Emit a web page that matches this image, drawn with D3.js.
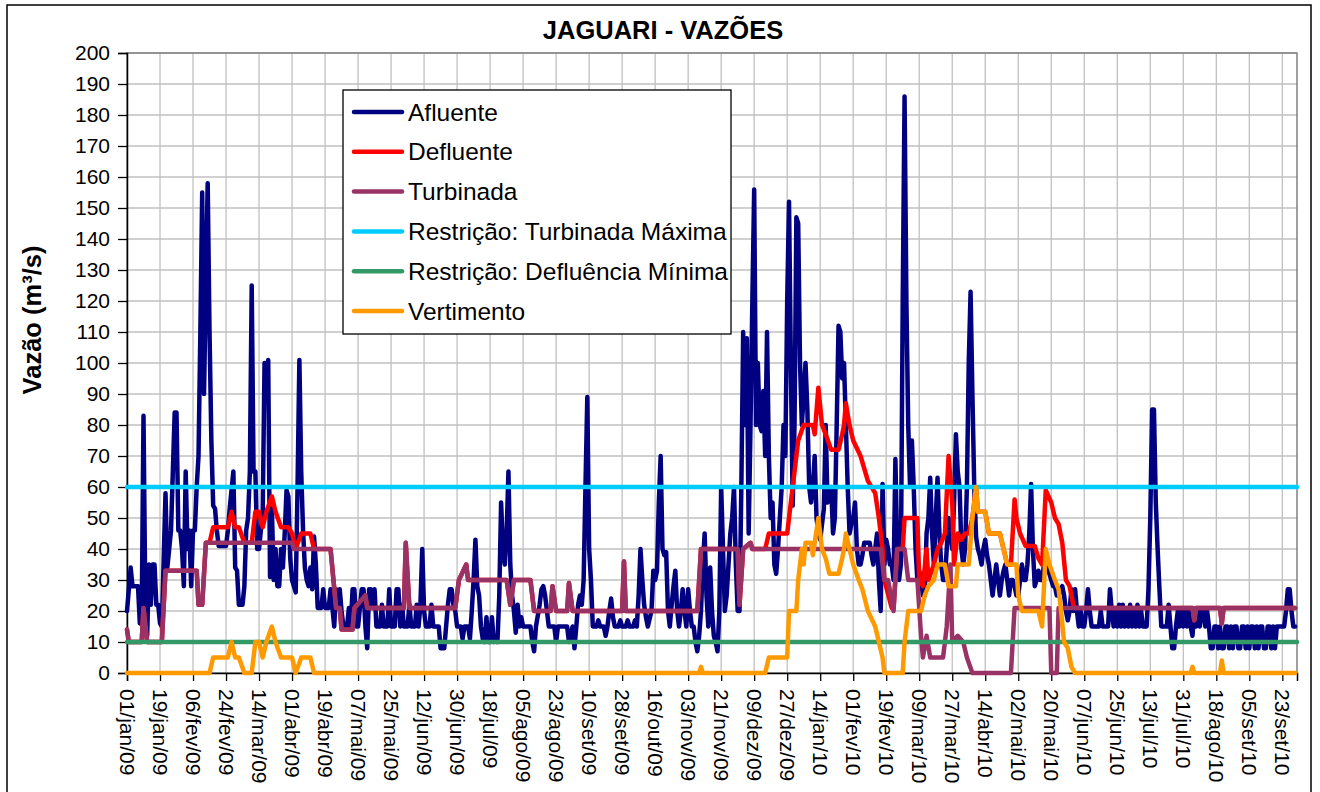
<!DOCTYPE html>
<html>
<head>
<meta charset="utf-8">
<script src="https://cdn.jsdelivr.net/npm/d3@7"></script>
<style>
  body { margin: 0; background: #fff; }
  text { font-family: "Liberation Sans", Arial, sans-serif; fill: #000; }
</style>
</head>
<body>
<svg id="chart" width="1320" height="792"></svg>
<script>
'use strict'

// [dia desde 01/jan/09, vazão m³/s]
const afluente = [
  [0,20],[2,34],[3,28],[6,28],[7,16],[8,16],[9,83],[10,22],[11,12],[12,35],[13,22],[14,35],[15,35],[16,22],[17,22],[18,16],[19,15],
  [21,58],[22,34],[23,40],[24,46],[26,84],[27,84],[28,46],[29,46],[30,40],[31,28],[32,65],[33,40],[34,46],[35,28],[36,46],[37,46],
  [38,60],[39,70],[40,110],[41,155],[42,90],[43,125],[44,158],[45,110],[46,75],[47,54],[48,53],[49,46],[50,41],[54,41],[55,46],
  [56,53],[57,59],[58,65],[59,34],[60,33],[61,22],[63,22],[64,28],[65,46],[66,50],[67,65],[68,125],[69,65],[70,65],[71,40],[72,40],
  [73,46],[74,52],[75,100],[76,96],[77,101],[78,31],[79,53],[80,30],[81,40],[82,28],[83,28],[84,40],[85,34],[86,45],[87,59],[88,57],
  [89,37],[90,30],[91,28],[92,26],[93,60],[94,101],[95,65],[96,46],[97,34],[98,30],[99,28],[100,34],[101,27],[102,44],[103,35],
  [104,21],[106,21],[107,27],[108,21],[110,21],[111,27],[112,21],[113,15],[114,27],[115,21],[116,27],[117,20],[118,15],[120,15],
  [121,21],[122,15],[123,27],[124,27],[125,15],[126,15],[127,21],[128,27],[129,27],[130,15],[131,8],[132,27],[133,27],[134,21],
  [135,27],[136,15],[138,15],[139,22],[140,15],[142,15],[143,27],[144,15],[146,15],[147,27],[148,27],[149,15],[150,22],[151,15],
  [153,15],[154,22],[155,15],[157,15],[158,22],[159,15],[160,22],[161,40],[162,20],[163,15],[165,15],[166,22],[167,15],[170,15],
  [171,8],[173,8],[174,15],[175,22],[176,27],[177,27],[178,22],[179,20],[180,15],[182,15],[183,11],[184,15],[186,15],[187,11],
  [188,20],[189,30],[190,43],[191,28],[192,25],[193,15],[194,11],[195,10],[196,18],[197,10],[198,10],[199,18],[200,10],[201,11],
  [202,10],[203,25],[204,55],[205,40],[206,35],[207,45],[208,65],[209,35],[210,25],[211,20],[212,13],[213,22],[214,15],[215,18],
  [216,15],[218,15],[219,15],[220,15],[221,10],[222,7],[223,15],[225,22],[226,27],[227,28],[228,25],[229,20],[230,15],[233,15],
  [234,10],[235,15],[240,15],[241,10],[243,15],[244,8],[245,15],[246,22],[247,25],[248,22],[249,30],[250,60],[251,89],[252,40],
  [253,30],[254,15],[256,15],[257,17],[258,15],[260,15],[261,12],[262,15],[263,20],[264,24],[265,18],[266,15],[268,15],[269,17],
  [270,15],[272,15],[273,17],[274,15],[276,15],[277,17],[278,15],[279,25],[280,40],[281,30],[282,22],[283,18],[284,15],[286,20],
  [287,33],[288,30],[289,33],[290,55],[291,70],[292,40],[293,38],[294,39],[295,20],[296,15],[297,22],[298,28],[299,33],[300,20],
  [301,15],[302,20],[303,27],[304,20],[305,15],[306,27],[307,20],[308,15],[309,15],[310,10],[311,7],[312,12],[313,20],[314,35],
  [315,45],[316,25],[317,15],[318,34],[319,20],[320,12],[321,10],[322,7],[323,20],[324,60],[325,40],[326,20],[327,25],[328,35],
  [329,45],[330,50],[331,60],[332,35],[333,20],[334,20],[335,60],[336,110],[337,80],[338,108],[339,45],[340,80],[341,120],[342,156],
  [343,80],[344,100],[345,80],[346,78],[347,91],[348,70],[349,110],[350,70],[351,50],[352,55],[353,35],[354,32],[355,40],[356,50],
  [357,60],[358,80],[359,70],[360,120],[361,152],[362,100],[363,54],[364,80],[365,147],[366,145],[367,100],[368,80],[369,90],
  [370,100],[371,85],[372,60],[373,55],[374,60],[375,70],[376,50],[377,45],[378,43],[379,48],[380,53],[381,80],[382,55],[383,58],
  [384,60],[385,45],[386,50],[387,80],[388,112],[389,110],[390,95],[391,100],[392,80],[393,60],[394,45],[395,48],[396,50],[397,55],
  [398,40],[399,35],[400,35],[401,38],[402,42],[405,42],[406,38],[407,35],[408,40],[409,45],[410,30],[411,20],[412,61],[413,35],
  [414,43],[415,40],[416,35],[417,35],[418,30],[419,69],[420,40],[421,30],[422,35],[423,120],[424,186],[425,120],[426,80],[427,60],
  [428,75],[429,60],[430,40],[431,30],[432,33],[433,30],[434,25],[435,25],[436,45],[437,50],[438,63],[439,45],[440,35],[441,50],
  [442,63],[443,45],[444,35],[445,30],[446,30],[447,40],[448,50],[449,45],[450,40],[451,55],[452,77],[453,65],[454,60],[455,40],
  [456,35],[457,40],[458,60],[459,100],[460,123],[461,90],[462,60],[463,44],[464,40],[465,38],[466,35],[467,40],[468,43],[469,38],
  [470,35],[471,30],[472,25],[473,30],[474,35],[475,30],[476,25],[477,30],[478,33],[479,35],[480,30],[481,25],[482,30],[483,30],
  [484,28],[485,25],[486,25],[487,30],[488,35],[489,30],[490,30],[491,35],[492,45],[493,61],[494,40],[495,28],[496,30],[497,33],
  [498,30],[499,30],[500,35],[501,38],[502,35],[503,32],[504,30],[505,28],[506,28],[507,25],[508,25],[509,27],[510,28],[511,25],
  [512,20],[513,17],[514,20],[515,27],[516,20],[517,27],[518,20],[519,15],[520,20],[521,15],[522,15],[523,20],[524,27],[525,20],
  [526,15],[530,15],[531,20],[532,15],[535,15],[536,27],[537,20],[538,15],[539,20],[540,15],[541,22],[542,15],[543,22],[544,15],
  [545,20],[546,15],[547,22],[548,15],[549,20],[550,15],[551,22],[552,15],[553,20],[554,15],[556,15],[557,27],[558,50],[559,85],
  [560,85],[561,55],[562,40],[563,27],[564,15],[567,15],[568,22],[569,15],[570,8],[571,8],[572,15],[573,20],[574,15],[575,20],
  [576,15],[577,20],[578,15],[579,20],[580,15],[581,12],[582,20],[583,15],[584,20],[585,15],[586,20],[587,20],[588,15],[589,20],
  [590,15],[591,8],[592,8],[593,15],[594,15],[595,8],[596,15],[597,8],[598,8],[599,15],[600,15],[601,8],[602,15],[603,8],[604,15],
  [605,15],[606,8],[607,8],[608,15],[609,15],[610,8],[611,15],[612,8],[613,15],[614,15],[615,8],[616,15],[617,8],[618,15],[619,15],
  [620,8],[621,8],[622,15],[623,15],[624,8],[625,15],[626,8],[627,15],[631,15],[632,20],[633,27],[634,27],[635,20],[636,15],[637,15]
]

const defluente = [
  [0,14],[1,10],[8,10],[9,21],[11,10],[19,10],[21,33],[38,33],[39,22],[41,22],[43,42],[45,42],[47,47],[55,47],[57,52],[59,47],
  [61,47],[64,42],[68,42],[70,52],[72,52],[74,47],[76,52],[79,57],[81,52],[84,47],[88,47],[90,45],[92,40],[95,45],[100,45],[102,40],
  [111,40],[114,21],[116,21],[117,14],[123,14],[124,21],[130,25],[131,21],[151,21],[152,42],[154,21],[179,21],[181,30],[185,35],
  [186,30],[207,30],[209,22],[211,30],[220,30],[222,20],[231,20],[232,28],[234,20],[240,20],[241,29],[243,20],[270,20],[271,36],
  [272,20],[311,20],[313,40],[333,40],[334,22],[336,40],[340,42],[341,40],[348,40],[350,45],[360,45],[363,60],[366,75],[369,80],
  [374,80],[375,77],[377,92],[379,80],[381,77],[384,72],[388,72],[390,77],[391,80],[392,87],[394,80],[396,75],[400,70],[404,62],
  [408,58],[410,50],[412,40],[413,30],[417,21],[418,21],[420,40],[423,40],[424,50],[431,50],[432,30],[434,28],[436,40],[437,30],
  [440,35],[442,40],[444,42],[446,45],[448,70],[450,55],[451,35],[453,45],[455,43],[457,45],[459,45],[461,50],[463,60],[464,52],
  [468,52],[470,45],[476,45],[478,40],[480,35],[482,35],[484,56],[485,50],[487,45],[490,41],[495,41],[497,37],[499,35],[501,59],
  [504,55],[506,50],[508,48],[510,42],[512,30],[514,28],[516,22],[517,21],[581,21],[582,17],[583,21],[596,21],[597,16],[598,21],
  [637,21]
]

const turbinada = [
  [0,14],[1,10],[8,10],[9,21],[11,10],[19,10],[21,33],[38,33],[39,22],[41,22],[43,42],[90,42],[91,40],[111,40],[114,21],[116,21],
  [117,14],[123,14],[124,21],[130,25],[131,21],[151,21],[152,42],[154,21],[179,21],[181,30],[185,35],[186,30],[207,30],[209,22],
  [211,30],[220,30],[222,20],[231,20],[232,28],[234,20],[240,20],[241,29],[243,20],[270,20],[271,36],[272,20],[311,20],[313,40],
  [333,40],[334,22],[336,40],[340,42],[341,40],[411,40],[413,30],[415,30],[418,20],[420,40],[424,40],[426,30],[431,30],[433,12],
  [434,5],[436,12],[438,5],[445,5],[447,15],[449,35],[450,10],[453,12],[456,10],[458,5],[461,0],[482,0],[484,21],[503,21],[504,0],
  [507,0],[508,21],[581,21],[582,17],[583,21],[596,21],[597,16],[598,21],[637,21]
]

const restricaoTurbMax = [[0,60],[638,60]]
const restricaoDeflMin = [[0,10],[638,10]]

const vertimento = [
  [0,0],[45,0],[47,5],[55,5],[57,10],[59,5],[61,5],[64,0],[68,0],[70,10],[72,10],[74,5],[76,10],[79,15],[81,10],[84,5],[90,5],
  [92,0],[95,5],[100,5],[102,0],[312,0],[313,2],[314,0],[348,0],[350,5],[360,5],[361,20],[365,20],[366,30],[368,40],[369,35],
  [370,42],[373,42],[374,38],[377,50],[379,40],[381,37],[383,32],[388,32],[390,37],[391,40],[392,45],[394,40],[396,35],[399,30],
  [401,27],[404,20],[408,15],[410,10],[412,5],[413,0],[423,0],[424,10],[426,20],[433,20],[435,25],[437,28],[440,30],[442,35],
  [446,35],[448,28],[452,28],[453,35],[459,35],[461,50],[463,60],[464,52],[468,52],[470,45],[476,45],[478,40],[480,35],[485,35],
  [486,25],[488,20],[497,20],[499,15],[501,40],[503,35],[506,30],[508,27],[509,22],[511,10],[513,8],[515,2],[517,0],[580,0],
  [581,2],[582,0],[596,0],[597,4],[598,0],[637,0]
]

const seriesNames = ['Afluente', 'Defluente', 'Turbinada', 'Restrição: Turbinada Máxima', 'Restrição: Defluência Mínima', 'Vertimento']
const seriesColors = ['#000080', '#ff0000', '#993366', '#00ccff', '#339966', '#ff9900']

const xTickLabels = [
  '01/jan/09', '19/jan/09', '06/fev/09', '24/fev/09', '14/mar/09', '01/abr/09', '19/abr/09', '07/mai/09', '25/mai/09',
  '12/jun/09', '30/jun/09', '18/jul/09', '05/ago/09', '23/ago/09', '10/set/09', '28/set/09', '16/out/09', '03/nov/09',
  '21/nov/09', '09/dez/09', '27/dez/09', '14/jan/10', '01/fev/10', '19/fev/10', '09/mar/10', '27/mar/10', '14/abr/10',
  '02/mai/10', '20/mai/10', '07/jun/10', '25/jun/10', '13/jul/10', '31/jul/10', '18/ago/10', '05/set/10', '23/set/10'
]
const yTicks = [0, 10, 20, 30, 40, 50, 60, 70, 80, 90, 100, 110, 120, 130, 140, 150, 160, 170, 180, 190, 200]

const monthIndex = { jan: 0, fev: 1, mar: 2, abr: 3, mai: 4, jun: 5, jul: 6, ago: 7, set: 8, out: 9, nov: 10, dez: 11 }
const parseLabel = (s) => {
  const [d, m, yy] = s.split('/')
  return new Date(Date.UTC(2000 + +yy, monthIndex[m], +d))
}
const start = new Date(Date.UTC(2009, 0, 1))
const dayToDate = (n) => d3.utcDay.offset(start, n)

const plot = { left: 127, right: 1297, top: 53, bottom: 673 }

const svg = d3.select('#chart')

// moldura externa do gráfico
svg.append('rect')
  .attr('x', 7).attr('y', 5).attr('width', 1304).attr('height', 800)
  .attr('fill', '#fff').attr('stroke', '#000').attr('stroke-width', 1.5)

const x = d3.scaleUtc()
  .domain([start, dayToDate(638)])
  .range([plot.left, plot.right])

const y = d3.scaleLinear()
  .domain([0, 200])
  .range([plot.bottom, plot.top])

const xTicks = xTickLabels.map(parseLabel)

// grade
const grid = svg.append('g').attr('stroke', '#c0c0c0').attr('stroke-width', 1.3)
grid.selectAll('.hgrid')
  .data(yTicks.filter(v => v > 0))
  .enter().append('line')
  .attr('x1', plot.left).attr('x2', plot.right)
  .attr('y1', d => y(d)).attr('y2', d => y(d))
grid.selectAll('.vgrid')
  .data(xTicks.slice(1))
  .enter().append('line')
  .attr('x1', d => x(d)).attr('x2', d => x(d))
  .attr('y1', plot.top).attr('y2', plot.bottom)

svg.append('rect')
  .attr('x', plot.left).attr('y', plot.top)
  .attr('width', plot.right - plot.left).attr('height', plot.bottom - plot.top)
  .attr('fill', 'none').attr('stroke', '#808080').attr('stroke-width', 1.5)

// eixo Y
const yAxis = svg.append('g')
  .attr('transform', `translate(${plot.left},0)`)
  .call(d3.axisLeft(y).tickValues(yTicks).tickSize(9).tickPadding(8))
yAxis.select('.domain').attr('stroke', '#000').attr('stroke-width', 1.5)
yAxis.selectAll('.tick line').attr('stroke', '#000').attr('stroke-width', 1.3)
yAxis.selectAll('.tick text')
  .attr('font-size', 21)
  .style('font-family', '"Liberation Sans", Arial, sans-serif')

// eixo X
const xAxis = svg.append('g')
  .attr('transform', `translate(0,${plot.bottom})`)
  .call(d3.axisBottom(x).tickValues(xTicks).tickSize(8).tickFormat(''))
xAxis.select('.domain').attr('stroke', '#000').attr('stroke-width', 1.5)
xAxis.selectAll('.tick line').attr('stroke', '#000').attr('stroke-width', 1.3)

svg.append('g').selectAll('text')
  .data(xTickLabels)
  .enter().append('text')
  .attr('transform', d => `translate(${x(parseLabel(d))},${plot.bottom + 16}) rotate(90)`)
  .attr('dy', '0.35em')
  .attr('font-size', 21)
  .text(d => d)

// séries
const seriesData = [afluente, defluente, turbinada, restricaoTurbMax, restricaoDeflMin, vertimento]
const line = d3.line()
  .x(d => x(dayToDate(d[0])))
  .y(d => y(d[1]))

svg.append('g').selectAll('path')
  .data(seriesData)
  .enter().append('path')
  .attr('d', d => line(d))
  .attr('fill', 'none')
  .attr('stroke', (d, i) => seriesColors[i])
  .attr('stroke-width', 4.5)
  .attr('stroke-linejoin', 'round')
  .attr('stroke-linecap', 'round')

// título
svg.append('text')
  .attr('x', 663).attr('y', 39)
  .attr('text-anchor', 'middle')
  .attr('font-size', 25.5)
  .attr('font-weight', 'bold')
  .text('JAGUARI - VAZÕES')

svg.append('text')
  .attr('transform', 'translate(41,320) rotate(-90)')
  .attr('text-anchor', 'middle')
  .attr('font-size', 25.5)
  .attr('font-weight', 'bold')
  .text('Vazão (m³/s)')

// legenda
const legend = svg.append('g').attr('transform', 'translate(343,90)')
legend.append('rect')
  .attr('width', 388).attr('height', 244)
  .attr('fill', '#fff').attr('stroke', '#000').attr('stroke-width', 1.3)

const rows = legend.selectAll('.row')
  .data(seriesNames)
  .enter().append('g')
  .attr('transform', (d, i) => `translate(0,${22 + i * 39.8})`)
rows.append('line')
  .attr('x1', 11).attr('x2', 59)
  .attr('stroke', (d, i) => seriesColors[i])
  .attr('stroke-width', 4.5)
  .attr('stroke-linecap', 'round')
rows.append('text')
  .attr('x', 65).attr('dy', '0.35em')
  .attr('font-size', 24.5)
  .text(d => d)
</script>
</body>
</html>
